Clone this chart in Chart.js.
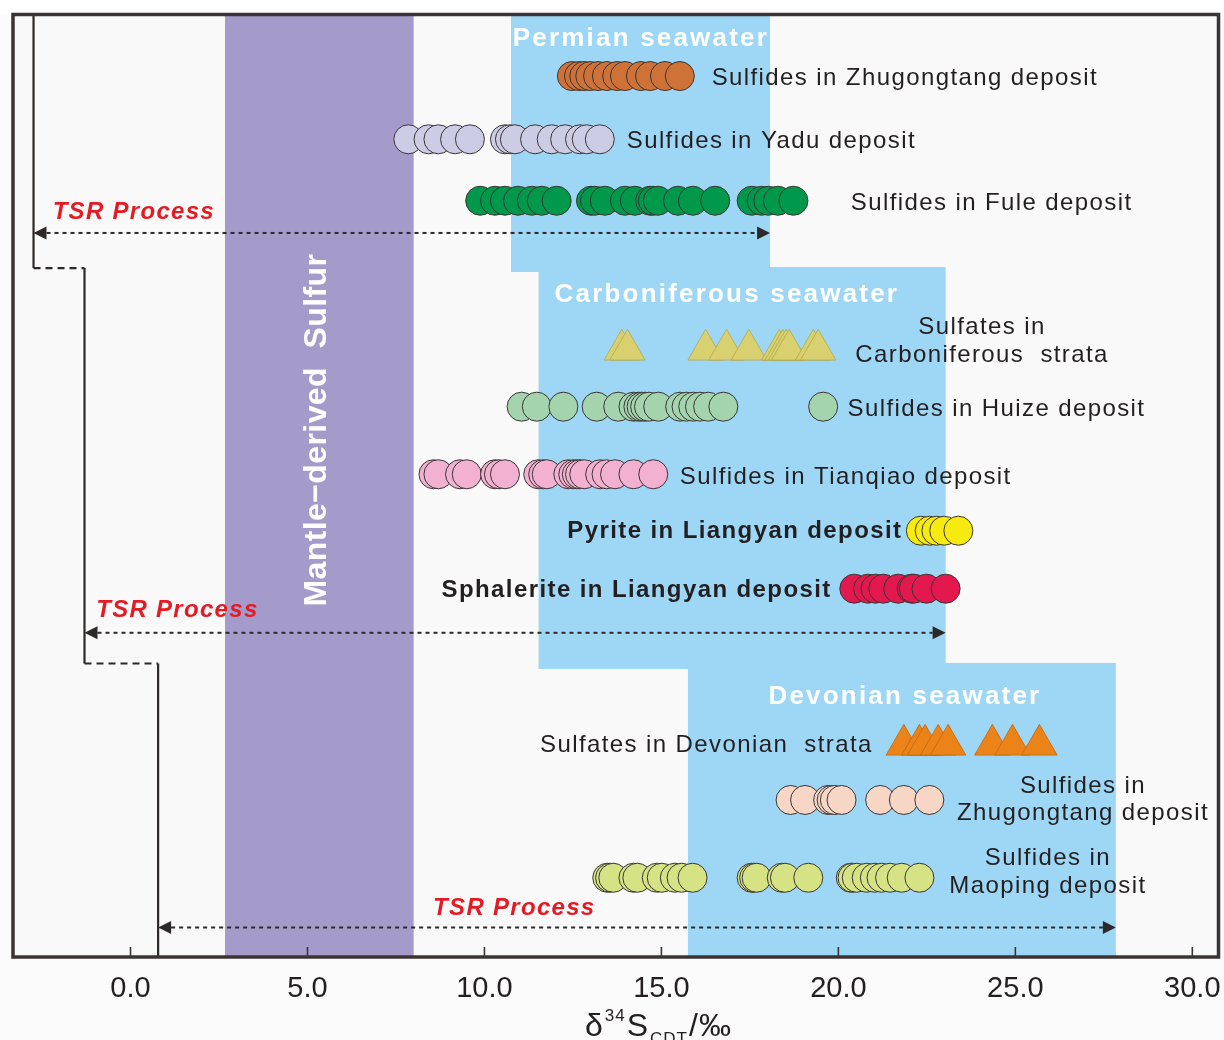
<!DOCTYPE html>
<html>
<head>
<meta charset="utf-8">
<script src="https://cdn.jsdelivr.net/npm/chart.js@4.4.1/dist/chart.umd.min.js"></script>
<style>
  html, body { margin: 0; padding: 0; background: #ffffff; }
  #wrap { width: 1224px; height: 1040px; }
</style>
</head>
<body>
<div id="wrap"><canvas id="chart" width="1224" height="1040"></canvas></div>
<script>
// ---------------------------------------------------------------
// δ34S (‰, CDT) of each sample group
// ---------------------------------------------------------------
const zhugongtangPermianSulfides = [12.47, 12.67, 12.82, 12.99, 13.21, 13.46, 13.75, 13.97, 14.42, 14.68, 15.10, 15.52];
const yaduSulfides = [7.85, 8.42, 8.70, 9.17, 9.59, 10.58, 10.72, 10.86, 11.43, 11.90, 12.28, 12.70, 12.89, 13.26];
const fuleSulfides = [9.88, 10.30, 10.58, 10.95, 11.34, 11.62, 12.04, 13.01, 13.12, 13.40, 13.97, 14.25, 14.68, 14.76, 14.90, 15.47, 15.89, 16.52, 17.55, 17.83, 18.02, 18.29, 18.73];
const carboniferousSulfates = [13.88, 14.04, 16.25, 16.84, 17.47, 18.33, 18.43, 18.52, 18.61, 19.29, 19.43];
const huizeSulfides = [11.05, 11.48, 12.23, 13.17, 13.78, 14.21, 14.35, 14.44, 14.54, 14.65, 14.91, 15.53, 15.71, 15.90, 16.09, 16.32, 16.75, 19.57];
const tianqiaoSulfides = [8.56, 8.70, 9.31, 9.50, 10.30, 10.41, 10.58, 11.52, 11.66, 11.76, 12.37, 12.51, 12.61, 12.70, 12.82, 13.27, 13.45, 13.69, 14.21, 14.77];
const liangyanPyrite = [22.33, 22.58, 22.77, 22.99, 23.39];
const liangyanSphalerite = [20.45, 20.84, 21.05, 21.27, 21.69, 22.07, 22.13, 22.49, 23.03];
const devonianSulfates = [21.85, 22.29, 22.45, 22.82, 23.10, 24.35, 24.92, 25.68];
const zhugongtangDevonianSulfides = [18.65, 19.06, 19.71, 19.81, 19.90, 20.09, 21.18, 21.85, 22.57];
const maopingSulfides = [13.47, 13.55, 13.64, 14.21, 14.32, 14.87, 15.01, 15.38, 15.57, 15.88, 17.55, 17.62, 17.69, 18.40, 18.49, 19.15, 20.35, 20.40, 20.52, 20.80, 21.03, 21.22, 21.46, 21.79, 22.29];

// δ34S ranges of the sulfur reservoirs
const mantleSulfurRange = [2.67, 8.0];
const permianSeawaterRange = [10.75, 18.07];
const carboniferousSeawaterRange = [11.53, 23.03];
const devonianSeawaterRange = [15.75, 27.84];
// reach of thermochemical sulfate reduction for each seawater stage
const tsrRanges = [[-2.74, 18.07], [-1.30, 23.03], [0.78, 27.84]];

// axis
const xMin = -3.32, xMax = 30.74;
const xTickValues = [0, 5, 10, 15, 20, 25, 30];

// ---------------------------------------------------------------
// vertical layout: rows sit on a hidden 0–100 axis (0 = top)
// ---------------------------------------------------------------
const rows = [
  { values: zhugongtangPermianSulfides, lane: 6.53,  shape: 'circle',   fill: '#cf7237' },
  { values: yaduSulfides,               lane: 13.24, shape: 'circle',   fill: '#cdcce5' },
  { values: fuleSulfides,               lane: 19.76, shape: 'circle',   fill: '#00984a' },
  { values: carboniferousSulfates,      lane: 35.58, shape: 'triangle', fill: '#d9d06f', edge: '#b3aa4e' },
  { values: huizeSulfides,              lane: 41.61, shape: 'circle',   fill: '#a4d4ad' },
  { values: tianqiaoSulfides,           lane: 48.78, shape: 'circle',   fill: '#f2b1d0' },
  { values: liangyanPyrite,             lane: 54.77, shape: 'circle',   fill: '#f7ea10' },
  { values: liangyanSphalerite,         lane: 60.92, shape: 'circle',   fill: '#e2184e' },
  { values: devonianSulfates,           lane: 77.49, shape: 'triangle', fill: '#eb8318', edge: '#c2680f' },
  { values: zhugongtangDevonianSulfides,lane: 83.34, shape: 'circle',   fill: '#f8d6c6' },
  { values: maopingSulfides,            lane: 91.59, shape: 'circle',   fill: '#d6e385' }
];

// seawater fields: x range and vertical extent on the row axis
const seawaterFields = [
  { range: permianSeawaterRange,       from: 0,     to: 27.32 },
  { range: carboniferousSeawaterRange, from: 26.79, to: 69.44 },
  { range: devonianSeawaterRange,      from: 68.80, to: 100 }
];
const tsrLanes = [23.18, 65.60, 96.87];
const stepLanes = [0, 26.90, 68.86, 100];

const INK = '#231f20';
const SANS = '"Liberation Sans", Arial, Helvetica, sans-serif';
const FONT_ROW = { font: '24px ' + SANS, spacing: 1.4, color: INK };
const FONT_BOLD = { font: 'bold 24px ' + SANS, spacing: 1.4, color: INK };
const FONT_TSR = { font: 'italic bold 24px ' + SANS, spacing: 1.3, color: '#e31b24' };
const FONT_SEA = { font: 'bold 26px ' + SANS, spacing: 2.2, color: '#ffffff' };

const annotations = [
  { text: 'Permian seawater',       x: 14.42, lane: 2.60,  align: 'center', style: FONT_SEA },
  { text: 'Carboniferous seawater', x: 16.85, lane: 29.76, align: 'center', style: FONT_SEA },
  { text: 'Devonian seawater',      x: 21.88, lane: 72.41, align: 'center', style: FONT_SEA },
  { text: 'Sulfides in Zhugongtang deposit', x: 16.42, lane: 6.74,  align: 'left', style: FONT_ROW },
  { text: 'Sulfides in Yadu deposit',        x: 14.02, lane: 13.42, align: 'left', style: FONT_ROW },
  { text: 'Sulfides in Fule deposit',        x: 20.35, lane: 20.0,  align: 'left', style: FONT_ROW },
  { text: 'Sulfates in',                     x: 24.06, lane: 33.16, align: 'center', style: FONT_ROW },
  { text: 'Carboniferous  strata',           x: 24.06, lane: 36.13, align: 'center', style: FONT_ROW },
  { text: 'Sulfides in Huize deposit',       x: 20.26, lane: 41.86, align: 'left', style: FONT_ROW },
  { text: 'Sulfides in Tianqiao deposit',    x: 15.52, lane: 49.07, align: 'left', style: FONT_ROW },
  { text: 'Pyrite in Liangyan deposit',      x: 21.81, lane: 54.80, align: 'right', style: FONT_BOLD },
  { text: 'Sphalerite in Liangyan deposit',  x: 19.81, lane: 61.06, align: 'right', style: FONT_BOLD },
  { text: 'Sulfates in Devonian  strata',    x: 20.97, lane: 77.51, align: 'right', style: FONT_ROW },
  { text: 'Sulfides in',                     x: 26.91, lane: 81.86, align: 'center', style: FONT_ROW },
  { text: 'Zhugongtang deposit',             x: 26.91, lane: 84.72, align: 'center', style: FONT_ROW },
  { text: 'Sulfides in',                     x: 25.92, lane: 89.50, align: 'center', style: FONT_ROW },
  { text: 'Maoping deposit',                 x: 25.92, lane: 92.47, align: 'center', style: FONT_ROW },
  { text: 'TSR Process', x: -2.20, lane: 20.95, align: 'left', style: FONT_TSR },
  { text: 'TSR Process', x: -0.97, lane: 63.18, align: 'left', style: FONT_TSR },
  { text: 'TSR Process', x: 8.55,  lane: 94.80, align: 'left', style: FONT_TSR }
];

// ---------------------------------------------------------------
// drawing helpers
// ---------------------------------------------------------------
function drawText(ctx, text, x, y, style, align) {
  ctx.save();
  ctx.font = style.font;
  ctx.fillStyle = style.color;
  ctx.textAlign = align || 'left';
  ctx.textBaseline = 'middle';
  if ('letterSpacing' in ctx) ctx.letterSpacing = (style.spacing || 0) + 'px';
  ctx.fillText(text, x, y);
  ctx.restore();
}

function arrowHead(ctx, x, y, dir) {
  ctx.beginPath();
  ctx.moveTo(x, y);
  ctx.lineTo(x - dir * 13, y - 6.5);
  ctx.lineTo(x - dir * 13, y + 6.5);
  ctx.closePath();
  ctx.fill();
}

const backdrop = {
  id: 'backdrop',
  beforeDraw(chart) {
    const { ctx, chartArea: a, scales: { x, y } } = chart;
    ctx.save();
    ctx.fillStyle = '#fbfbfb';
    ctx.fillRect(0, 0, chart.width, chart.height);
    ctx.fillStyle = '#ffffff';
    ctx.fillRect(0, 0, chart.width, a.top);
    ctx.fillStyle = '#f9f9f9';
    ctx.fillRect(a.left, a.top, a.right - a.left, a.bottom - a.top);

    // mantle-derived sulfur band
    ctx.fillStyle = '#a59bcb';
    const m0 = x.getPixelForValue(mantleSulfurRange[0]);
    const m1 = x.getPixelForValue(mantleSulfurRange[1]);
    ctx.fillRect(m0, a.top, m1 - m0, a.bottom - a.top);

    // seawater fields
    ctx.fillStyle = '#9dd7f5';
    seawaterFields.forEach(f => {
      const x0 = x.getPixelForValue(f.range[0]);
      const x1 = x.getPixelForValue(f.range[1]);
      const y0 = y.getPixelForValue(f.from);
      const y1 = y.getPixelForValue(f.to);
      ctx.fillRect(x0, y0, x1 - x0, y1 - y0);
    });
    ctx.restore();
  }
};

const overlay = {
  id: 'overlay',
  afterDatasetsDraw(chart) {
    const { ctx, chartArea: a, scales: { x, y } } = chart;
    ctx.save();

    // stepped TSR limits: solid verticals joined by dashed treads
    ctx.strokeStyle = '#2e2929';
    ctx.lineWidth = 2.2;
    tsrRanges.forEach((r, i) => {
      const px = x.getPixelForValue(r[0]);
      ctx.setLineDash([]);
      ctx.beginPath();
      ctx.moveTo(px, y.getPixelForValue(stepLanes[i]));
      ctx.lineTo(px, y.getPixelForValue(stepLanes[i + 1]));
      ctx.stroke();
      if (i < tsrRanges.length - 1) {
        const nx = x.getPixelForValue(tsrRanges[i + 1][0]);
        const sy = y.getPixelForValue(stepLanes[i + 1]);
        ctx.setLineDash([7, 5]);
        ctx.beginPath();
        ctx.moveTo(px, sy);
        ctx.lineTo(nx, sy);
        ctx.stroke();
      }
    });

    // TSR double arrows
    ctx.fillStyle = '#2e2929';
    ctx.lineWidth = 2;
    tsrRanges.forEach((r, i) => {
      const x0 = x.getPixelForValue(r[0]);
      const x1 = x.getPixelForValue(r[1]);
      const py = y.getPixelForValue(tsrLanes[i]);
      ctx.setLineDash([4, 4]);
      ctx.beginPath();
      ctx.moveTo(x0 + 13, py);
      ctx.lineTo(x1 - 13, py);
      ctx.stroke();
      ctx.setLineDash([]);
      arrowHead(ctx, x0, py, -1);
      arrowHead(ctx, x1, py, 1);
    });

    // text annotations
    annotations.forEach(t => {
      drawText(ctx, t.text, x.getPixelForValue(t.x), y.getPixelForValue(t.lane), t.style, t.align);
    });

    // vertical label inside the mantle band
    ctx.save();
    ctx.translate(x.getPixelForValue((mantleSulfurRange[0] + mantleSulfurRange[1]) / 2 - 0.07), y.getPixelForValue(44.09));
    ctx.rotate(-Math.PI / 2);
    drawText(ctx, 'Mantle\u2212derived  Sulfur', 0, 0, { font: 'bold 32px ' + SANS, spacing: 0.4, color: '#ffffff' }, 'center');
    ctx.restore();

    // frame
    ctx.setLineDash([]);
    ctx.strokeStyle = '#3a3434';
    ctx.lineWidth = 3.5;
    ctx.strokeRect(a.left, a.top, a.right - a.left, a.bottom - a.top);

    // inward tick marks
    ctx.lineWidth = 1.6;
    x.ticks.forEach(t => {
      const px = x.getPixelForValue(t.value);
      ctx.beginPath();
      ctx.moveTo(px, a.bottom);
      ctx.lineTo(px, a.bottom - 10);
      ctx.stroke();
    });

    // axis title: δ34S(CDT)/‰
    const base = 1036;
    let cx = 585;
    const pieces = [
      { s: '\u03B4', font: '32px ' + SANS, dy: 0 },
      { s: '34', font: '17px ' + SANS, dy: -15 },
      { s: 'S', font: '32px ' + SANS, dy: 0 },
      { s: 'CDT', font: '17px ' + SANS, dy: 8 },
      { s: '/\u2030', font: '32px ' + SANS, dy: 0 }
    ];
    ctx.fillStyle = INK;
    ctx.textBaseline = 'alphabetic';
    ctx.textAlign = 'left';
    pieces.forEach(p => {
      ctx.font = p.font;
      if ('letterSpacing' in ctx) ctx.letterSpacing = '1px';
      ctx.fillText(p.s, cx, base + p.dy);
      cx += ctx.measureText(p.s).width + 1;
    });
    ctx.restore();
  }
};

// ---------------------------------------------------------------
// chart
// ---------------------------------------------------------------
const datasets = rows.map(r => ({
  data: r.values.slice().sort((a, b) => a - b).map(v => ({ x: v, y: r.lane })),
  pointStyle: r.shape,
  pointRadius: r.shape === 'triangle' ? 20.5 : 14.5,
  pointHoverRadius: r.shape === 'triangle' ? 20.5 : 14.5,
  backgroundColor: r.fill,
  borderColor: r.edge || '#3a3535',
  borderWidth: r.shape === 'triangle' ? 0.8 : 1,
  showLine: false,
  clip: false
}));

new Chart(document.getElementById('chart'), {
  type: 'scatter',
  data: { datasets },
  options: {
    responsive: false,
    devicePixelRatio: 1,
    animation: false,
    events: [],
    layout: { autoPadding: false, padding: { left: 13, right: 5.5, top: 14.5, bottom: 0 } },
    plugins: { legend: { display: false }, tooltip: { enabled: false } },
    scales: {
      x: {
        type: 'linear',
        min: xMin,
        max: xMax,
        afterBuildTicks: s => { s.ticks = xTickValues.map(v => ({ value: v })); },
        afterFit: s => { s.height = 83; s.paddingLeft = 0; s.paddingRight = 0; },
        ticks: {
          includeBounds: false,
          autoSkip: false,
          maxRotation: 0,
          padding: 15,
          color: INK,
          font: { family: '"Liberation Sans", Arial, sans-serif', size: 29 },
          callback: v => Number(v).toFixed(1)
        },
        grid: { display: false, drawTicks: false },
        border: { display: false }
      },
      y: { type: 'linear', display: false, min: 0, max: 100, reverse: true }
    }
  },
  plugins: [backdrop, overlay]
});
</script>
</body>
</html>
